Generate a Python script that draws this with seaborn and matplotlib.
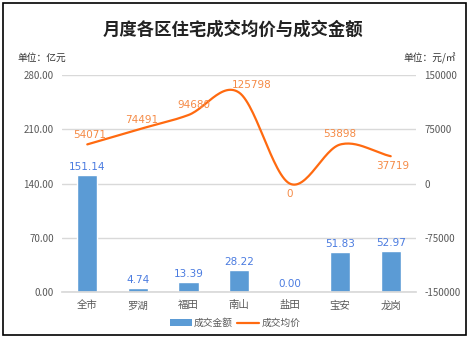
import numpy as np
import pandas as pd
import seaborn as sns
import matplotlib
matplotlib.use("Agg")
import matplotlib.pyplot as plt
from matplotlib.patches import Rectangle, Patch
from matplotlib.lines import Line2D

districts = ["全市", "罗湖", "福田", "南山", "盐田", "宝安", "龙岗"]
amount = [151.14, 4.74, 13.39, 28.22, 0.00, 51.83, 52.97]      # 亿元
avg_price = [54071, 74491, 94680, 125798, 0, 53898, 37719]     # 元/㎡

left_ticks = [0, 70, 140, 210, 280]
right_ticks = [-150000, -75000, 0, 75000, 150000]

BAR = "#5B9BD5"
LINE = "#FF6A10"
BAR_TXT = "#4A7BE0"
LINE_TXT = "#F58A45"
TICK = "#595959"
GRID = "#D9D9D9"

sns.set_theme(style="white")
plt.rcParams["font.family"] = ["Noto Sans CJK SC", "DejaVu Sans"]

fig = plt.figure(figsize=(4.7, 3.4), dpi=100)
fig.patches.append(Rectangle((3 / 470, 5 / 340), 463 / 470, 332 / 340,
                             transform=fig.transFigure, fill=False,
                             edgecolor="black", linewidth=1.2))

ax = fig.add_axes([62 / 470, 48 / 340, 354 / 470, 217 / 340])
df = pd.DataFrame({"区": districts, "成交金额": amount})
sns.barplot(data=df, x="区", y="成交金额", color=BAR, width=0.4,
            saturation=1, ax=ax)
ax.set_ylim(0, 280)
ax.set_yticks(left_ticks)
ax.set_yticklabels([f"{v:.2f}" for v in left_ticks])
ax.set_xlabel("")
ax.set_ylabel("")
ax.set_xlim(-0.5, 6.5)
for s in ["top", "right", "left"]:
    ax.spines[s].set_visible(False)
ax.spines["bottom"].set_color(GRID)
ax.yaxis.grid(True, color=GRID, linewidth=1)
ax.set_axisbelow(True)
ax.tick_params(axis="both", length=0, labelsize=7, colors=TICK, pad=6)
ax.tick_params(axis="x", pad=6, labelsize=7.5)

for i, v in enumerate(amount):
    ax.text(i, v + 4, f"{v:.2f}", ha="center", va="bottom",
            fontsize=7.5, color=BAR_TXT, family="DejaVu Sans")

ax2 = ax.twinx()
ax2.set_ylim(-150000, 150000)
ax2.set_yticks(right_ticks)
ax2.set_yticklabels([str(v) for v in right_ticks])
for s in ax2.spines.values():
    s.set_visible(False)
ax2.tick_params(axis="y", length=0, labelsize=7, colors=TICK, pad=6)

# Catmull-Rom smoothing through the data points
xs = np.arange(len(avg_price), dtype=float)
ys = np.asarray(avg_price, dtype=float)
px = np.concatenate([[2 * xs[0] - xs[1]], xs, [2 * xs[-1] - xs[-2]]])
py = np.concatenate([[2 * ys[0] - ys[1]], ys, [2 * ys[-1] - ys[-2]]])
cx, cy = [], []
t = np.linspace(0, 1, 30)
for k in range(1, len(px) - 2):
    p0, p1, p2, p3 = (np.array([px[j], py[j]]) for j in range(k - 1, k + 3))
    m1 = (p2 - p0) / 2
    m2 = (p3 - p1) / 2
    h00 = 2 * t**3 - 3 * t**2 + 1
    h10 = t**3 - 2 * t**2 + t
    h01 = -2 * t**3 + 3 * t**2
    h11 = t**3 - t**2
    seg = (np.outer(h00, p1) + np.outer(h10, m1) + np.outer(h01, p2) + np.outer(h11, m2))
    cx.extend(seg[:, 0])
    cy.extend(seg[:, 1])
ax2.plot(cx, cy, color=LINE, linewidth=1.6, solid_capstyle="round")

offsets = [(0.05, 6500), (0.08, 6500), (0.1, 6500), (0.25, 3500),
           (0, -8000), (0, 7500), (0.03, -6000)]
for i, v in enumerate(avg_price):
    dx, dy = offsets[i]
    ax2.text(i + dx, v + dy, str(v), ha="center",
             va="bottom" if dy > 0 else "top",
             fontsize=7.5, color=LINE_TXT, family="DejaVu Sans")

fig.text(0.495, 1 - 30 / 340, "月度各区住宅成交均价与成交金额", ha="center",
         va="center", fontsize=12.5, fontweight="bold", color="#222222")
fig.text(17 / 470, 1 - 58 / 340, "单位：亿元", ha="left", va="center",
         fontsize=7, color="#333333")
fig.text(456 / 470, 1 - 58 / 340, "单位：元/㎡", ha="right", va="center",
         fontsize=7, color="#333333")

handles = [Patch(facecolor=BAR, edgecolor="none"),
           Line2D([0], [0], color=LINE, linewidth=1.6)]
fig.legend(handles, ["成交金额", "成交均价"], loc="center",
           bbox_to_anchor=(0.50, 1 - 323 / 340), ncol=2, frameon=False,
           fontsize=7, handlelength=2.3, handleheight=0.7,
           columnspacing=0.4, handletextpad=0.2,
           labelcolor=TICK)

fig.savefig("out.png", dpi=100)
